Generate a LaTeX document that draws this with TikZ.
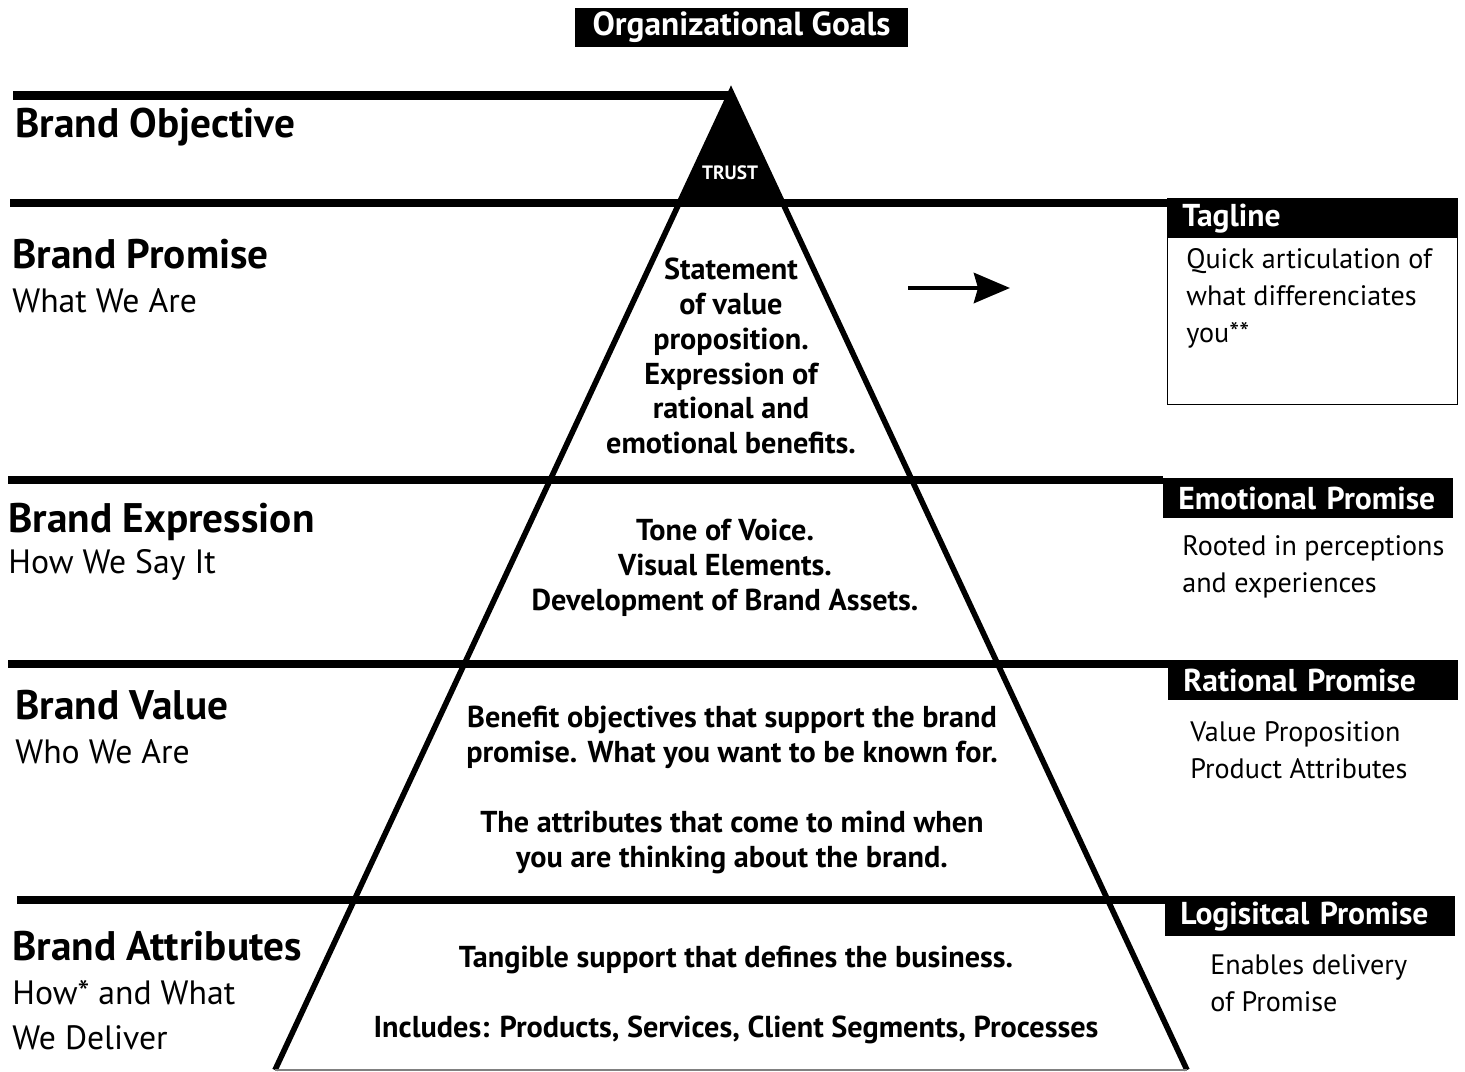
\documentclass[tikz,border=0pt]{standalone}
\usepackage{fontspec}
\setmainfont{PT Sans}
\usetikzlibrary{arrows.meta,calc,positioning}
\tikzset{%
	band/.style     = {line width=5pt}, % level line
	side/.style     = {line width=3.2pt, line join=miter},
	level/.style    = {anchor=base west, inner sep=0pt, font=\bfseries\fontsize{23.5}{26}\selectfont},
	levelsub/.style = {anchor=west, inner sep=0pt, align=left, font=\fontsize{19.2}{26}\selectfont},
	inside/.style   = {inner sep=0pt, align=center, font=\bfseries\fontsize{17.2}{19.85}\selectfont},
	tag/.style      = {fill=black, text=white, anchor=north west, minimum width=5.8cm, minimum height=0.8cm, inner xsep=0.3cm, inner ysep=0pt, text width=5.2cm, align=left, font=\bfseries\fontsize{18}{20}\selectfont}, % right header
	note/.style     = {anchor=west, inner sep=0pt, align=left, font=\fontsize{16}{21}\selectfont},
	goal/.style     = {fill=black, text=white, minimum width=6.66cm, minimum height=0.78cm, inner sep=0pt, font=\bfseries\fontsize{19}{20}\selectfont},
}

\begin{document}
\begin{tikzpicture}[x=0.02cm,y=-0.02cm]
	\useasboundingbox (0,0) rectangle (1465,1072);
	% pyramid
	\coordinate (apex) at (731,92);
	\coordinate (bl) at (275,1070);
	\coordinate (br) at (1187,1070);
	\coordinate (tl) at ($(apex)!0.1135!(bl)$);
	\coordinate (tr) at ($(apex)!0.1135!(br)$);
	\fill (apex) -- (tl) -- (tr) -- cycle;
	
	\node [goal] (goals) at (741.5,27.5) {Organizational Goals};
	\node [draw, thin, anchor=north west, minimum width=5.8cm, minimum height=4.12cm, inner sep=0pt] (tagbox) at (1167,198) {};
	\node [tag] (tagline) at (1167,198) {Tagline};
	\node [tag] (emotional) at (1163,478) {Emotional Promise};
	\node [tag] (rational) at (1168,660) {Rational Promise};
	\node [tag] (logistical) at (1165,896) {Logisitcal Promise};
	
	% level lines
	\coordinate (b1) at (13,95.5);
	\coordinate (b2) at (10,203);
	\coordinate (b3) at (8,480);
	\coordinate (b4) at (8,664);
	\coordinate (b5) at (17,900);
	\draw [band] (b1) -- (apex |- b1);
	\draw [band] (b2) -- (tagline.west |- b2);
	\draw [band] (b3) -- (emotional.west |- b3);
	\draw [band] (b4) -- (rational.west |- b4);
	\draw [band] (b5) -- (logistical.west |- b5);
	\draw [side] (bl) -- (apex) -- (br);
	\draw [gray, line width=0.6pt] (bl) -- (br);
	
	\node [text=white, font=\bfseries\fontsize{11}{12}\selectfont] (trust) at (730,173) {TRUST};
	
	% left labels
	\node [level] (objective) at (15,137) {Brand Objective};
	\node [level] (promise) at (12,268) {Brand Promise};
	\node [levelsub] (promisesub) at (12,301) {What We Are};
	\node [level] (expression) at (8,532) {Brand Expression};
	\node [levelsub] (expressionsub) at (8,565) {How We Say It};
	\node [level] (value) at (15,719) {Brand Value};
	\node [levelsub] (valuesub) at (15,752) {Who We Are};
	\node [level] (attributes) at (12,960) {Brand Attributes};
	\node [levelsub] (attributessub) at (12,1015) {How* and What\\We Deliver};
	
	% inside the pyramid
	\node [inside] (promisetxt) at (731,356) {Statement\\of value\\proposition.\\Expression of\\rational and\\emotional benefits.};
	\node [inside] (expressiontxt) at (725,568) {Tone of Voice.\\Visual Elements.\\Development of Brand Assets.};
	\node [inside] (valuetxt) at (732,790) {Benefit objectives that support the brand\\promise. What you want to be known for.\\[19.85pt]The attributes that come to mind when\\you are thinking about the brand.};
	\node [inside] (attributestxt) at (736,995) {Tangible support that defines the business.\\[19.85pt]Includes: Products, Services, Client Segments, Processes};
	
	% right notes
	\node [note] (tagnote) at (1186,298) {Quick articulation of\\what differenciates\\you**};
	\node [note] (emonote) at (1182,567) {Rooted in perceptions\\and experiences};
	\node [note] (ratnote) at (1190,750) {Value Proposition\\Product Attributes};
	\node [note] (lognote) at (1210,983) {Enables delivery\\of Promise};
	
	\coordinate (arrs) at (908,288);
	\coordinate (arre) at (1010,288);
	\draw [-{Stealth[length=0.72cm,width=0.6cm,inset=0.08cm]}, line width=2.8pt] (arrs) -- (arre);
\end{tikzpicture}
\end{document}
